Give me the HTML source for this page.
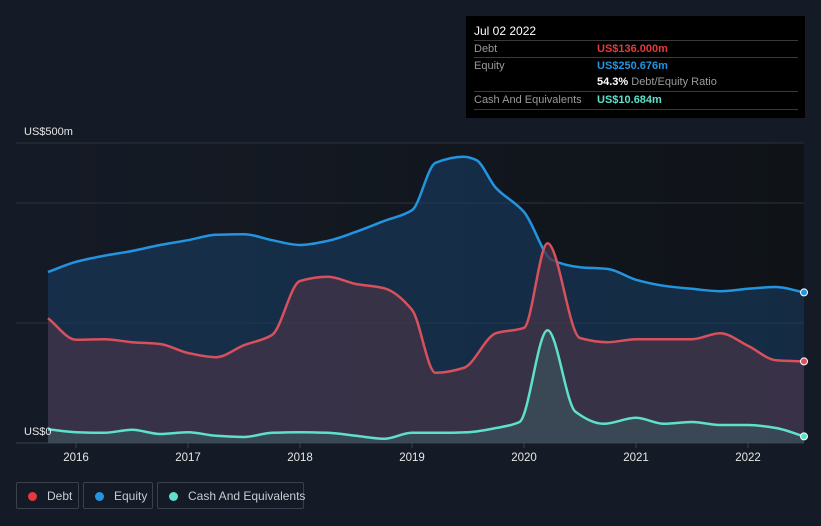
<!DOCTYPE html>
<html><head><meta charset="utf-8"><style>
body{margin:0;background:#151b26;font-family:"Liberation Sans",sans-serif;}
#wrap{position:relative;width:821px;height:526px;overflow:hidden}
.tt{position:absolute;left:466px;top:16px;width:339px;height:102px;background:#000;color:#fff;font-size:11px}
.row{position:absolute;left:8px;width:324px;border-top:1px solid #3a3a3a;height:17px;line-height:17px}
.lab{color:#9a9a9a;position:absolute;left:0}
.val{position:absolute;left:123px;font-weight:bold}
.leg{position:absolute;top:482px;height:27px;border:1px solid #3a414c;border-radius:2px;color:#c8cbd0;font-size:12px;line-height:27px;white-space:nowrap;box-sizing:border-box}
.dot{display:inline-block;width:9px;height:9px;border-radius:50%;margin:0 10px 0 11px;vertical-align:-1px}
</style></head><body><div id="wrap">
<svg id="svg" width="821" height="526" style="position:absolute;left:0;top:0">
<defs><linearGradient id="bg" x1="0" x2="1"><stop offset="0" stop-color="#151b26"/><stop offset="1" stop-color="#0f1318"/></linearGradient></defs>
<rect x="48" y="143" width="756" height="300" fill="url(#bg)"/>
<g id="grid"></g><g id="marks"></g>
<text x="24" y="135" fill="#e6e6e6" font-size="11">US$500m</text>
<text x="24" y="435" fill="#e6e6e6" font-size="11">US$0</text>
<g id="xt"></g>
</svg>
<div class="tt">
<div style="position:absolute;left:8px;top:8px;font-size:12px">Jul 02 2022</div>
<div class="row" style="top:24px"><span class="lab">Debt</span><span class="val" style="color:#e5393f">US$136.000m</span></div>
<div class="row" style="top:41px"><span class="lab">Equity</span><span class="val" style="color:#2394e0">US$250.676m</span></div>
<div class="row" style="top:58px;border-top:none"><span class="val" style="color:#fff">54.3% <span style="color:#9a9a9a;font-weight:normal">Debt/Equity Ratio</span></span></div>
<div class="row" style="top:75px;border-bottom:1px solid #3a3a3a"><span class="lab">Cash And Equivalents</span><span class="val" style="color:#5ee0cc">US$10.684m</span></div>
</div>
<div class="leg" style="left:16px;width:63px"><span class="dot" style="background:#e5393f"></span>Debt</div>
<div class="leg" style="left:83px;width:70px"><span class="dot" style="background:#2394e0"></span>Equity</div>
<div class="leg" style="left:157px;width:147px"><span class="dot" style="background:#5ee0cc"></span>Cash And Equivalents</div>
</div>
<script>
const equityYears=[2015.75,2016,2016.25,2016.5,2016.75,2017,2017.25,2017.5,2017.75,2018,2018.25,2018.5,2018.75,2019,2019.21,2019.46,2019.57,2019.75,2020,2020.25,2020.5,2020.75,2021,2021.25,2021.5,2021.75,2022,2022.25,2022.5];
const equityValues=[285,302,312,320,330,338,347,348,338,330,337,352,370,388,467,477,472,425,385,305,293,290,272,262,257,253,257,260,251];
const debtYears=[2015.75,2016,2016.25,2016.5,2016.75,2017,2017.25,2017.5,2017.75,2018,2018.25,2018.5,2018.75,2019,2019.21,2019.46,2019.75,2020,2020.21,2020.5,2020.75,2021,2021.25,2021.5,2021.75,2022,2022.25,2022.5];
const debtValues=[208,172,173,168,165,150,143,163,180,270,277,265,258,222,117,125,183,192,333,175,168,173,173,173,183,162,138,136];
const cashYears=[2015.75,2016,2016.25,2016.5,2016.75,2017,2017.25,2017.5,2017.75,2018,2018.25,2018.5,2018.75,2019,2019.25,2019.5,2019.75,2019.96,2020.21,2020.46,2020.71,2021,2021.25,2021.5,2021.75,2022,2022.25,2022.5];
const cashValues=[23,18,17,22,15,18,12,10,17,18,17,12,7,17,17,18,25,35,188,52,32,42,32,35,30,30,25,11];
const yTicks=[0,200,400,500];
const xTickYears=[2016,2017,2018,2019,2020,2021,2022];
const X=y=>76+(y-2016)*112, Y=v=>443-v*0.6;
const NS="http://www.w3.org/2000/svg";
function mk(t,a,p){const e=document.createElementNS(NS,t);for(const k in a)e.setAttribute(k,a[k]);p.appendChild(e);return e;}
function path(xs,vs){const p=xs.map((x,i)=>[X(x),Y(vs[i])]);const n=p.length;
const s=[];for(let i=0;i<n-1;i++)s.push((p[i+1][1]-p[i][1])/(p[i+1][0]-p[i][0]));
const m=[];for(let i=0;i<n;i++){if(i===0)m.push(s[0]);else if(i===n-1)m.push(s[n-2]);else m.push(s[i-1]*s[i]<=0?0:(2*s[i-1]*s[i])/(s[i-1]+s[i]));}
let d="M"+p[0];for(let i=0;i<n-1;i++){const h=(p[i+1][0]-p[i][0])/3;d+="C"+[p[i][0]+h,p[i][1]+m[i]*h]+" "+[p[i+1][0]-h,p[i+1][1]-m[i+1]*h]+" "+p[i+1];}return d;}
const grid=document.getElementById('grid');
yTicks.forEach(v=>{const l=mk('line',{x1:16,x2:804,y1:Y(v),y2:Y(v),stroke:v===0?'#3a414c':'#2c333e','stroke-width':1},grid);

});
const xt=document.getElementById('xt');
xTickYears.forEach(y=>{mk('line',{x1:X(y),x2:X(y),y1:443,y2:448,stroke:'#3a414c'},xt);const t=mk('text',{x:X(y),y:461,fill:'#e6e6e6','font-size':11.5,'text-anchor':'middle'},xt);t.textContent=y;

});
const mg=document.getElementById('marks');
const series=[[equityYears,equityValues,'#2394e0','rgba(24,60,96,0.6)','equity'],[debtYears,debtValues,'#d9505d','rgba(68,52,72,0.75)','debt'],[cashYears,cashValues,'#5ee0cc','rgba(60,100,100,0.45)','cash']];
series.forEach(([xs,vs,c,f,n])=>{const d=path(xs,vs);
const a=mk('path',{d:d+`L${X(xs[xs.length-1])},443L${X(xs[0])},443Z`,fill:f},mg);


const l=mk('path',{d:d,fill:'none',stroke:c,'stroke-width':2.5},mg);


const dt=mk('circle',{cx:X(xs[xs.length-1]),cy:Y(vs[vs.length-1]),r:3.5,fill:c,stroke:'#fff','stroke-width':1},mg);

});
</script></body></html>
